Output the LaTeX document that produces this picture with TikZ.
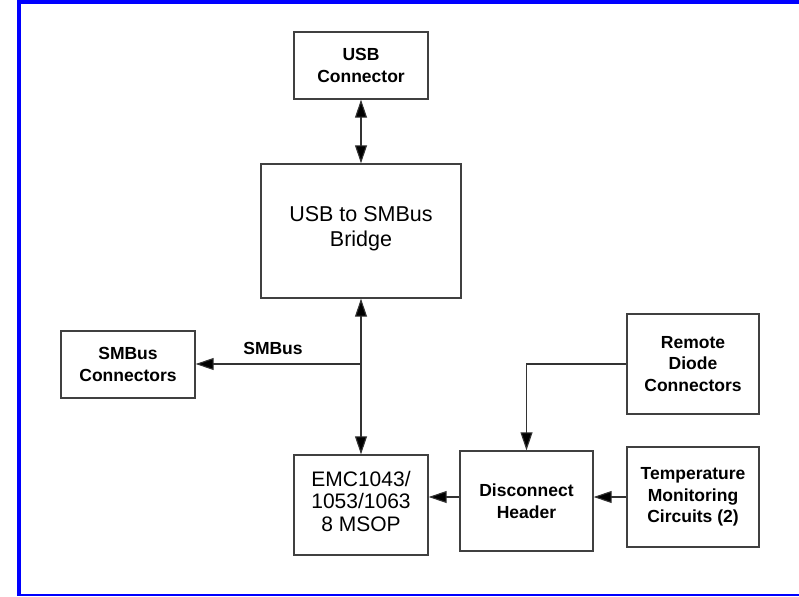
\documentclass[tikz,border=0pt]{standalone}
\usepackage{fontspec}
\setmainfont{Liberation Sans}
\usetikzlibrary{arrows.meta}
\begin{document}
\begin{tikzpicture}[x=1pt,y=-1pt,
 box/.style={draw=black!75, line width=1.4pt, inner sep=0pt, align=center},
 bl/.style={font=\fontsize{17.5}{21.5}\selectfont\bfseries},
 rg/.style={font=\fontsize{21.5}{25}\selectfont},
 txt/.style={inner sep=0pt, align=center},
 tip/.tip={Triangle[length=18pt,width=12pt,fill=black]},
 arr/.style={draw=black!80, line width=1.1pt, -tip},
 darr/.style={draw=black!80, line width=1.1pt, tip-tip}]
\useasboundingbox (0,0) rectangle (799,596);
\draw[blue, line width=4pt] (19,2) -- (801,2);
\draw[blue, line width=4pt] (19,0) -- (19,596);
\draw[blue, line width=2pt] (19,594.5) -- (801,594.5);

\node[box, bl, minimum width=134pt, minimum height=67pt] (usb) at (361,65.5) {USB\\Connector};
\node[box, minimum width=200pt, minimum height=134pt] (bridge) at (361,231) {};
\node[txt, rg] (bridgetxt) at ([yshift=2pt]bridge.center) {USB to SMBus\\Bridge};
\node[box, bl, minimum width=134pt, minimum height=67pt] (smb) at (128,364.5) {SMBus\\Connectors};
\node[box, minimum width=134pt, minimum height=100pt] (emc) at (361,505) {};
\node[txt, font=\fontsize{21}{22.5}\selectfont] (emctxt) at ([yshift=4pt]emc.center) {EMC1043/\\1053/1063\\8 MSOP};
\node[box, bl, minimum width=133pt, minimum height=100pt] (disc) at (526.5,501) {Disconnect\\Header};
\node[box, bl, minimum width=132pt, minimum height=100pt] (remote) at (693,364) {Remote\\Diode\\Connectors};
\node[box, bl, minimum width=132pt, minimum height=100pt] (temp) at (693,497) {Temperature\\Monitoring\\Circuits (2)};

\coordinate (j) at (361,364);
\draw[darr] (usb.south) -- (bridge.north);
\draw[darr] (bridge.south) -- (emc.north);
\draw[arr] (j) -- (smb.east |- j);
\node[bl, inner sep=0pt] (lbl) at (273,348) {SMBus};
\draw[arr] (remote.west) -| (disc.north);
\draw[arr] (temp.west) -- (temp.west -| disc.east);
\draw[arr] (disc.west |- temp.west) -- (temp.west -| emc.east);
\end{tikzpicture}
\end{document}
